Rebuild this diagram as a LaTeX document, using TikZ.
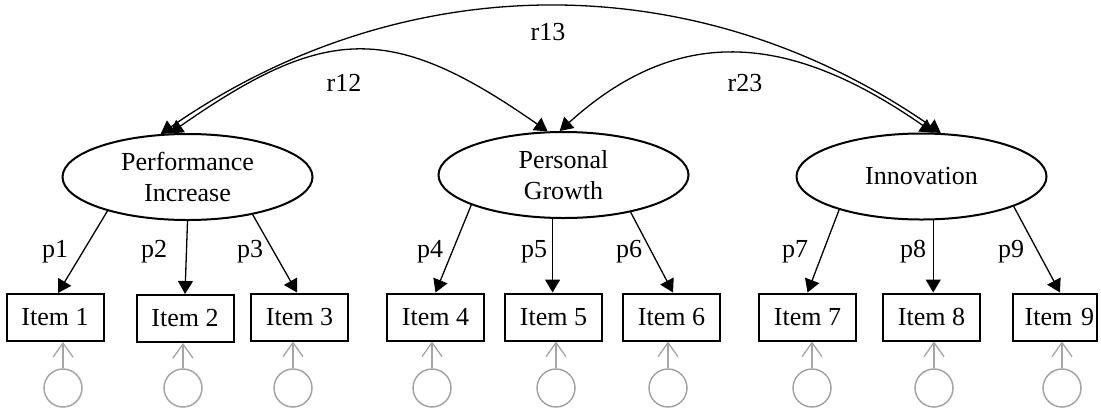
\documentclass[tikz,border=0pt]{standalone}
\usepackage{fontspec}
\setmainfont{Liberation Serif}
\usetikzlibrary{shapes.geometric,arrows.meta}
\definecolor{errgray}{RGB}{165,165,165}
\begin{document}
\begin{tikzpicture}[x=0.5pt,y=-0.5pt,
  every node/.style={font=\fontsize{13}{15.5}\selectfont},
  latent/.style={draw, ellipse, line width=1pt, minimum width=125pt, minimum height=43pt, inner sep=0pt, align=center},
  item/.style={draw, rectangle, line width=1pt, minimum width=48.5pt, minimum height=23.5pt, inner sep=0pt},
  err/.style={draw=errgray, circle, line width=0.75pt, minimum size=19pt, inner sep=0pt},
  load/.style={line width=0.65pt, -{Triangle[length=6.5pt,width=7.5pt]}},
  corr/.style={line width=0.65pt, {Triangle[length=6.5pt,width=7.5pt]}-{Triangle[length=6.5pt,width=7.5pt]}},
  errarrow/.style={draw=errgray, line width=0.65pt, -{Straight Barb[length=7pt,width=10pt]}},
  lab/.style={inner sep=0pt, anchor=base},
  rlab/.style={inner sep=0pt},
]
\useasboundingbox (0,0) rectangle (1101,408);

% latent variables
\node[latent] (PI)  at (187.5,177) {Performance\\Increase};
\node[latent] (PG)  at (563.5,175) {Personal\\Growth};
\node[latent] (Inn) at (921.5,176.5) {Innovation};

% items
\node[item] (i1) at (55,317.5) {Item 1};
\node[item] (i2) at (185,318.5) {Item 2};
\node[item] (i3) at (299.5,317) {Item 3};
\node[item] (i4) at (435.5,317) {Item 4};
\node[item] (i5) at (553.5,317) {Item 5};
\node[item] (i6) at (671.5,317) {Item 6};
\node[item] (i7) at (807.5,317) {Item 7};
\node[item] (i8) at (931.5,317) {Item 8};
\node[item, minimum width=42pt, text width=39pt, align=right, inner xsep=1.5pt] (i9) at (1055,317) {Item 9};

% error terms
\node[err] (e1) at (63,388) {};
\node[err] (e2) at (183,388) {};
\node[err] (e3) at (293,388) {};
\node[err] (e4) at (432,388) {};
\node[err] (e5) at (556,388) {};
\node[err] (e6) at (668,388) {};
\node[err] (e7) at (812,388) {};
\node[err] (e8) at (934,388) {};
\node[err] (e9) at (1062,388) {};

\foreach \k in {1,...,9}{
  \draw[errarrow] (e\k.north) -- (e\k.north |- i\k.south);
}

% loadings
\draw[load] (PI.203) -- ([xshift=1.5pt]i1.north);
\draw[load] (PI.270) -- (i2.north);
\draw[load] (PI.330) -- ([xshift=-1.25pt]i3.north);
\draw[load] (PG.198) -- (i4.north);
\draw[load] (PG.256) -- (PG.256 |- i5.north);
\draw[load] (PG.331) -- ([xshift=0.75pt]i6.north);
\draw[load] (Inn.202) -- (i7.north);
\draw[load] (Inn.285) -- (Inn.285 |- i8.north);
\draw[load] (Inn.342) -- ([xshift=2.5pt]i9.north);

\node[lab] (lp1) at (55,257) {p1};
\node[lab] (lp2) at (154,257) {p2};
\node[lab] (lp3) at (250,257) {p3};
\node[lab] (lp4) at (430,257) {p4};
\node[lab] (lp5) at (534,257) {p5};
\node[lab] (lp6) at (629,257) {p6};
\node[lab] (lp7) at (795,257) {p7};
\node[lab] (lp8) at (913,257) {p8};
\node[lab] (lp9) at (1011,257) {p9};

% correlations
\draw[corr] (PI.112) .. controls +(156,-109) and +(-156,-109) .. (PG.110);
\draw[corr] (PI.122) .. controls +(243,-169) and +(-243,-169) .. (Inn.66);
\draw[corr] (PG.95) .. controls +(115,-104) and +(-149,-104) .. (Inn.75);

\node[rlab] (r12) at (344,83) {r12};
\node[rlab] (r13) at (548,32) {r13};
\node[rlab] (r23) at (745,83) {r23};
\end{tikzpicture}
\end{document}
